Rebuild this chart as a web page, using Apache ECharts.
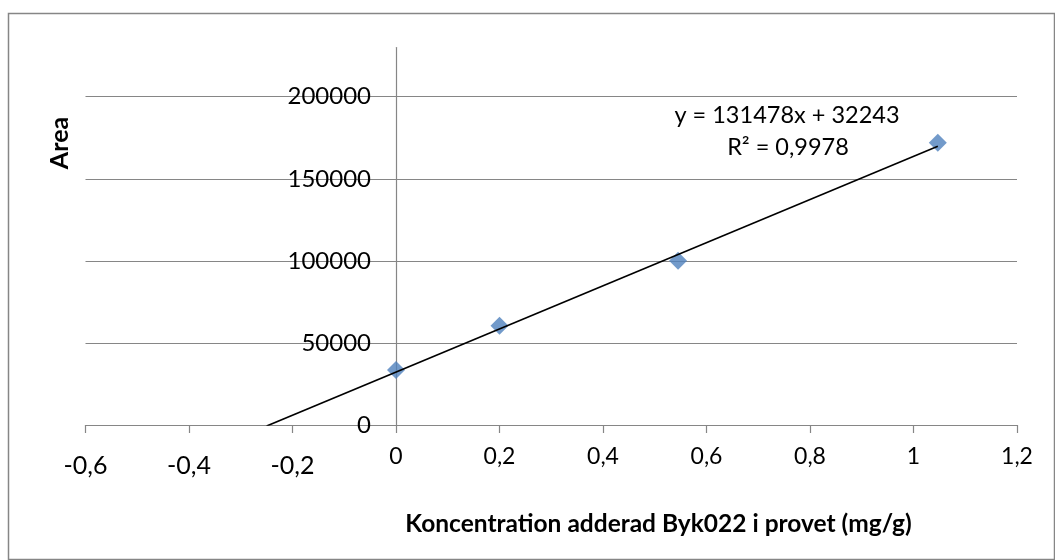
<!DOCTYPE html>
<html>
<head>
<meta charset="utf-8">
<script src="https://cdn.jsdelivr.net/npm/echarts@6/dist/echarts.min.js"></script>
<style>
html,body{margin:0;padding:0;background:#fff;}
#c{width:1055px;height:560px;}
</style>
</head>
<body>
<div id="c"></div>
<script>
// Data
const xValues = [0, 0.2, 0.545, 1.047];
const yValues = [33500, 60400, 100000, 172000];
const xTicks = [-0.6, -0.4, -0.2, 0, 0.2, 0.4, 0.6, 0.8, 1, 1.2];
const yTicks = [0, 50000, 100000, 150000, 200000];
// Trendline as printed on the chart
const trendSlope = 131478;
const trendIntercept = 32243;
const trendRange = [-0.25, 1.047];
const equationText = 'y = 131478x + 32243';
const r2Text = 'R² = 0,9978';
const xTitle = 'Koncentration adderad Byk022 i provet (mg/g)';
const yTitle = 'Area';

const points = xValues.map((x, i) => [x, yValues[i]]);
const trend = trendRange.map(x => [x, trendSlope * x + trendIntercept]);

const FONT = 'Lato';
const W = 1055, H = 560;
const gridLeft = 85.5, gridRight = 38, gridTop = 47.5, gridBottom = 135;
const xMin = xTicks[0], xMax = xTicks[xTicks.length - 1];
const plotW = W - gridLeft - gridRight;
// y axis crosses the x axis at x = 0
const yAxisOffset = -((0 - xMin) / (xMax - xMin)) * plotW;

const chart = echarts.init(document.getElementById('c'));
chart.setOption({
  backgroundColor: '#fff',
  animation: false,
  grid: { left: gridLeft, right: gridRight, top: gridTop, bottom: gridBottom, containLabel: false, outerBoundsMode: 'none' },
  xAxis: {
    type: 'value', min: xMin, max: xMax, interval: 0.2,
    axisLine: { onZero: true, lineStyle: { color: '#868686', width: 1.2 } },
    axisTick: { show: true, length: 8, lineStyle: { color: '#868686', width: 1.2 } },
    splitLine: { show: false },
    axisLabel: {
      margin: 20,
      formatter: v => {
        const s = String(Math.round(v * 10) / 10).replace('.', ',');
        return v < 0 ? '{neg|' + s + '}' : '{pos|' + s + '}';
      },
      rich: {
        neg: { fontFamily: FONT, fontSize: 25, color: '#000', padding: [8, 0, 0, 0] },
        pos: { fontFamily: FONT, fontSize: 23, color: '#000' }
      }
    }
  },
  yAxis: {
    type: 'value', min: yTicks[0], max: 230000, interval: 50000,
    offset: yAxisOffset,
    axisLine: { show: true, onZero: false, lineStyle: { color: '#868686', width: 1.2 } },
    axisTick: { show: false },
    splitLine: { show: true, showMaxLine: false, lineStyle: { color: '#868686', width: 1.2 } },
    axisLabel: { margin: 25, showMaxLabel: false, fontFamily: FONT, fontSize: 24, color: '#000',
                 formatter: v => String(v) }
  },
  graphic: [
    { type: 'rect', shape: { x: 8.5, y: 13.5, width: 1046, height: 546 },
      style: { fill: 'none', stroke: '#868686', lineWidth: 1.5 }, z: -1 },
    { type: 'text', x: 60, y: 143, rotation: Math.PI / 2,
      style: { text: yTitle, fontFamily: FONT, fontSize: 25, fontWeight: 'bold', fill: '#000',
               align: 'center', verticalAlign: 'middle' } },
    { type: 'text', x: 658.5, y: 524,
      style: { text: xTitle, fontFamily: FONT, fontSize: 24.5, fontWeight: 'bold', fill: '#000',
               align: 'center', verticalAlign: 'middle' } },
    { type: 'text', x: 787, y: 115,
      style: { text: equationText, fontFamily: FONT, fontSize: 23.5, fill: '#000',
               align: 'center', verticalAlign: 'middle' } },
    { type: 'text', x: 788, y: 147,
      style: { text: r2Text, fontFamily: FONT, fontSize: 23.5, fill: '#000',
               align: 'center', verticalAlign: 'middle' } }
  ],
  series: [
    { type: 'scatter', data: points, symbol: 'diamond', symbolSize: 18,
      itemStyle: { color: '#4F81BD' }, z: 2 },
    { type: 'line', data: trend, showSymbol: false, symbol: 'none', clip: true,
      lineStyle: { color: '#000', width: 1.6 }, z: 3 }
  ]
});
</script>
</body>
</html>
